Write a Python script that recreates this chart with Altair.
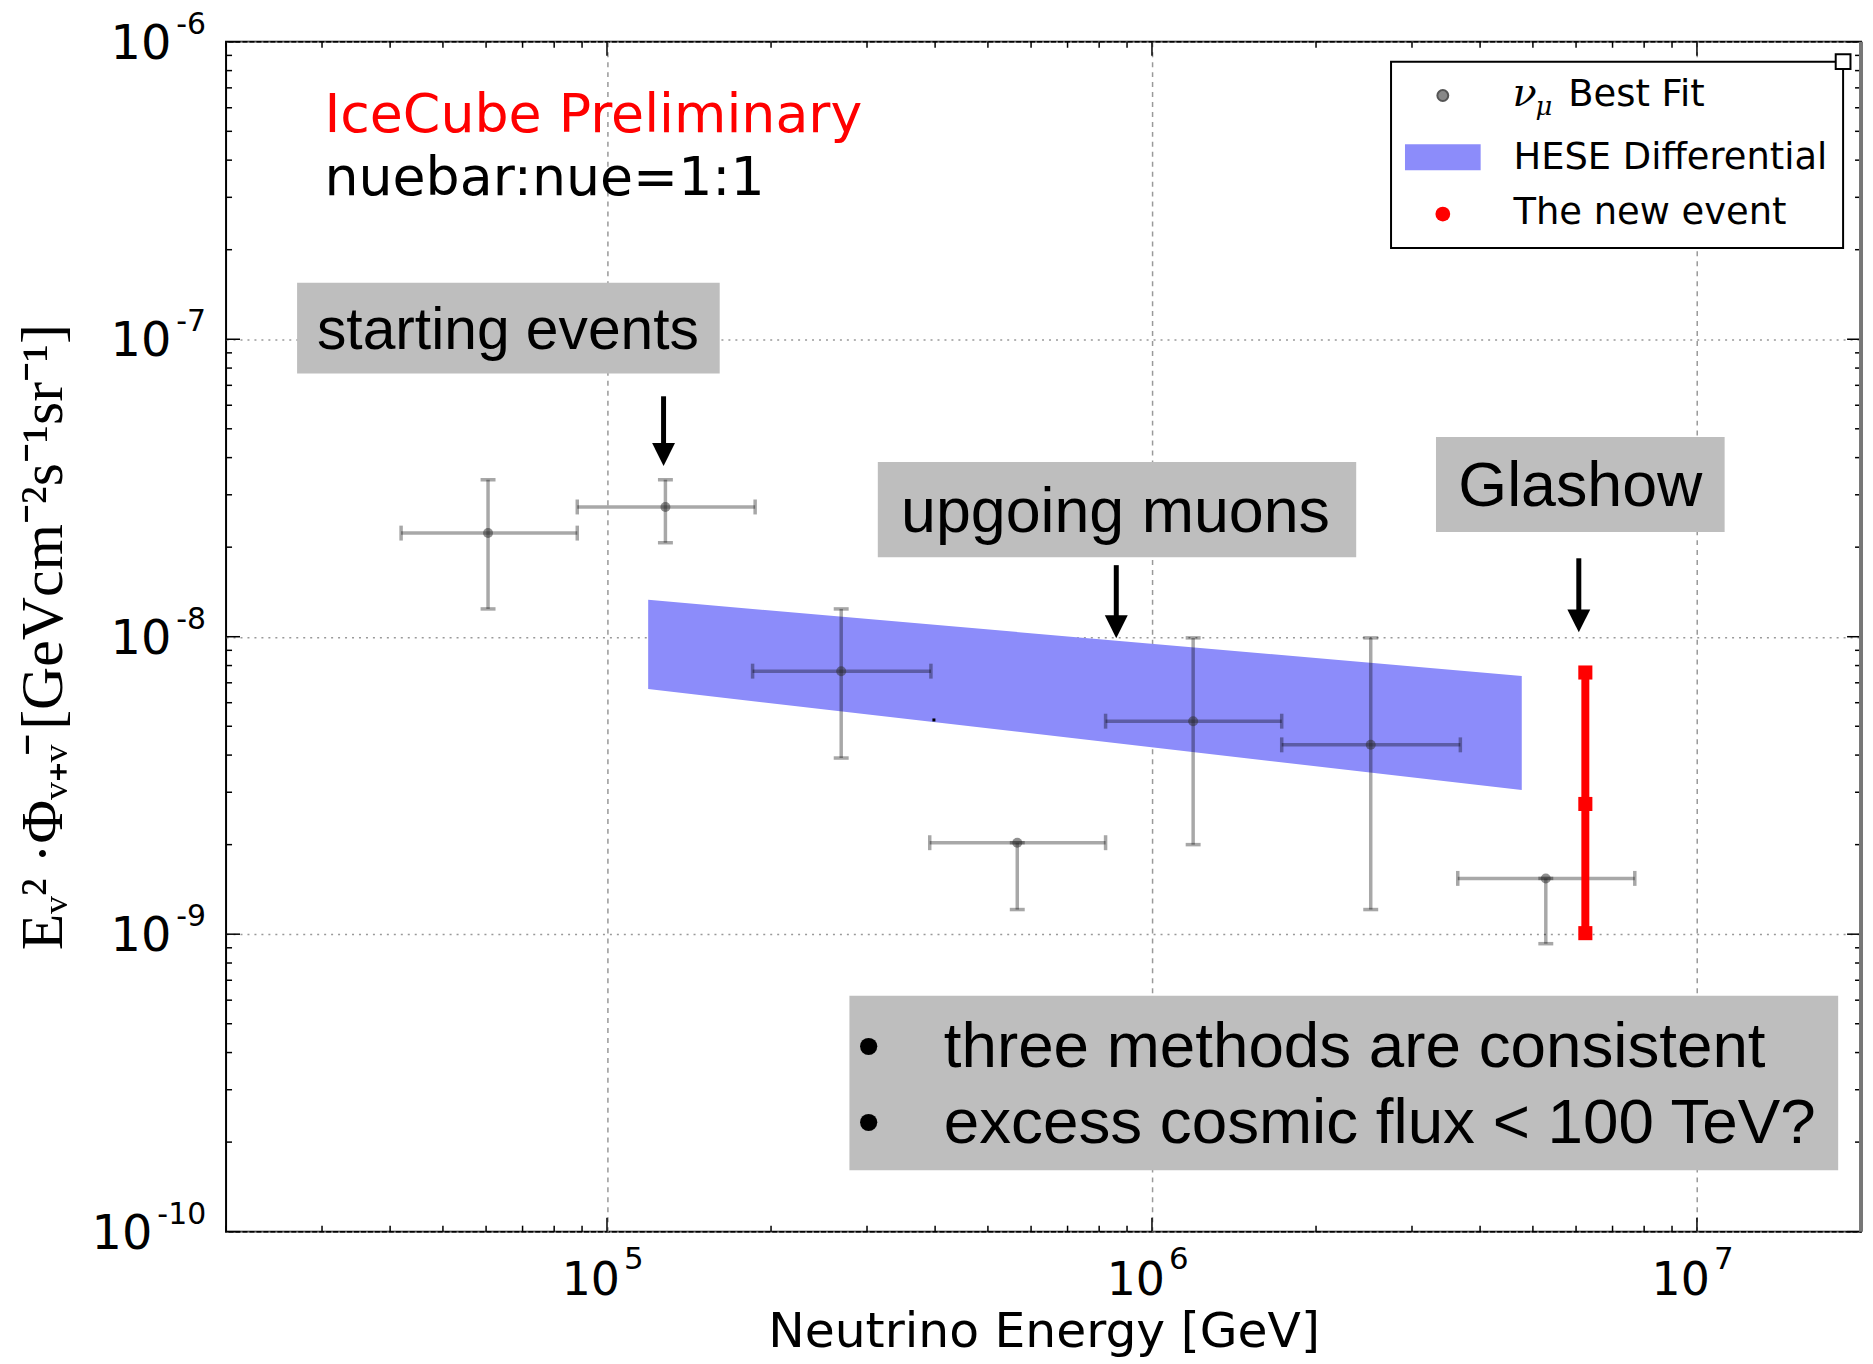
import math
import altair as alt
import pandas as pd

# ---------------- data ----------------
energy = [6.05e4, 1.28e5, 2.69e5, 5.66e5, 1.19e6, 2.52e6, 5.28e6]
energy_lo = [4.19e4, 8.82e4, 1.85e5, 3.91e5, 8.22e5, 1.73e6, 3.64e6]
energy_hi = [8.82e4, 1.87e5, 3.93e5, 8.22e5, 1.73e6, 3.68e6, 7.69e6]
flux = [2.23e-8, 2.73e-8, 7.66e-9, 2.03e-9, 5.20e-9, 4.33e-9, 1.54e-9]
flux_lo = [1.24e-8, 2.07e-8, 3.91e-9, 1.21e-9, 2.0e-9, 1.21e-9, 9.29e-10]
flux_hi = [3.37e-8, 3.37e-8, 1.24e-8, 2.03e-9, 9.91e-9, 9.91e-9, 1.54e-9]

hese_energy = [1.19e5, 4.77e6]
hese_upper = [1.33e-8, 7.38e-9]
hese_lower = [6.67e-9, 3.05e-9]

new_event_energy = [6.24e6, 6.24e6, 6.24e6]
new_event_flux = [7.58e-9, 2.74e-9, 1.008e-9]

stray_dot_energy = [3.98e5]
stray_dot_flux = [5.25e-9]

x_tick_values = [1e5, 1e6, 1e7]
x_tick_exponents = ["5", "6", "7"]
y_tick_values = [1e-10, 1e-9, 1e-8, 1e-7, 1e-6]
y_tick_exponents = ["-10", "-9", "-8", "-7", "-6"]

# annotation boxes (data coordinates)
box_x = [2.70e4, 3.14e5, 3.32e6, 2.785e5]
box_x2 = [1.61e5, 2.37e6, 1.124e7, 1.816e7]
box_y = [1.55e-7, 3.87e-8, 4.69e-8, 6.21e-10]
box_y2 = [7.67e-8, 1.85e-8, 2.25e-8, 1.61e-10]

box_texts = ["starting events", "upgoing muons", "Glashow"]
box_text_x = [6.58e4, 8.57e5, 6.11e6]
box_text_y = [9.24e-8, 2.25e-8, 2.755e-8]
box_text_size = [59, 63, 63]

bullet_lines = ["three methods are consistent", "excess cosmic flux < 100 TeV?"]
bullet_x = [3.02e5, 3.02e5]
bullet_text_x = [4.15e5, 4.15e5]
bullet_y = [3.59e-10, 1.99e-10]

arrow_x = [1.27e5, 8.60e5, 6.07e6]
arrow_top = [6.43e-8, 1.74e-8, 1.835e-8]
arrow_head = [4.10e-8, 1.08e-8, 1.13e-8]

header_texts = ["IceCube Preliminary", "nuebar:nue=1:1"]
header_colors = ["#ff0000", "#000000"]
header_x = [3.03e4, 3.03e4]
header_y = [4.96e-7, 3.05e-7]

# ---------------- layout ----------------
W, H = 1642, 1195
xscale = alt.Scale(type="log", domain=[2e4, 2e7], nice=False)
yscale = alt.Scale(type="log", domain=[1e-10, 1e-6], nice=False)

x_axis = alt.Axis(
    values=x_tick_values, labels=False,
    grid=True, gridDash=[5, 5], gridColor="#999999", gridWidth=1.5,
    ticks=False, domain=False,
    title="Neutrino Energy [GeV]", titleFont="DejaVu Sans", titleFontSize=49,
    titleFontWeight="normal", titleColor="black", titleY=115,
    titleBaseline="alphabetic",
)
y_axis = alt.Axis(
    values=y_tick_values, labels=False,
    grid=True, gridDash=[2, 5], gridColor="#999999", gridWidth=1.5,
    ticks=False, domain=False,
    title="E\u1d65\u00b2 \u00b7\u03a6\u1d65\u208a\u1d65\u0304  [GeVcm\u207b\u00b2s\u207b\u00b9sr\u207b\u00b9]",
    titleFont="Liberation Serif", titleFontSize=60, titleFontWeight="normal",
    titleColor="black", titleAngle=270, titleX=-183, titleY=H / 2,
    titleAlign="center", titleBaseline="middle",
)


def X(field):
    return alt.X(field, scale=xscale, axis=x_axis)


def Y(field):
    return alt.Y(field, scale=yscale, axis=y_axis)


one = pd.DataFrame({"k": [0]})

# HESE band
band_df = pd.DataFrame({"e": hese_energy, "lo": hese_lower, "hi": hese_upper})
band = alt.Chart(band_df).mark_area(color="#8c8cfa", opacity=1).encode(
    x=X("e:Q"), y=Y("lo:Q"), y2="hi:Q")

cross_df = pd.DataFrame({
    "e": energy, "elo": energy_lo, "ehi": energy_hi,
    "f": flux, "flo": flux_lo, "fhi": flux_hi,
})
gray = dict(stroke="black", opacity=0.34)
hbar = alt.Chart(cross_df).mark_rule(strokeWidth=3.5, **gray).encode(
    x=X("elo:Q"), x2="ehi:Q", y=Y("f:Q"))
vbar = alt.Chart(cross_df).mark_rule(strokeWidth=3.5, **gray).encode(
    x=X("e:Q"), y=Y("flo:Q"), y2="fhi:Q")
hcaps = alt.Chart(cross_df).transform_fold(["elo", "ehi"], as_=["kk", "xv"]).mark_point(
    shape="M0,-1L0,1", size=225, strokeWidth=3.5, filled=False, **gray).encode(
    x=X("xv:Q"), y=Y("f:Q"))
vcaps = alt.Chart(cross_df).transform_fold(["flo", "fhi"], as_=["kk", "yv"]).mark_point(
    shape="M-1,0L1,0", size=225, strokeWidth=3.5, filled=False, **gray).encode(
    x=X("e:Q"), y=Y("yv:Q"))
centers = alt.Chart(cross_df).mark_point(
    shape="circle", filled=True, size=100, color="#333333", opacity=0.55).encode(
    x=X("e:Q"), y=Y("f:Q"))

stray = alt.Chart(pd.DataFrame({"e": stray_dot_energy, "f": stray_dot_flux})).mark_square(
    size=9, color="black", opacity=1).encode(x=X("e:Q"), y=Y("f:Q"))

# new event
ne_df = pd.DataFrame({"e": new_event_energy, "f": new_event_flux})
ne_line = alt.Chart(ne_df).mark_rule(color="#ff0000", strokeWidth=8).encode(
    x=X("min(e):Q"), y=Y("min(f):Q"), y2="max(f):Q")
ne_pts = alt.Chart(ne_df).mark_square(size=200, color="#ff0000", opacity=1).encode(
    x=X("e:Q"), y=Y("f:Q"))

# annotation boxes
boxes_df = pd.DataFrame({"x": box_x, "x2": box_x2, "y": box_y, "y2": box_y2})
boxes = alt.Chart(boxes_df).mark_rect(color="#bebebe").encode(
    x=X("x:Q"), x2="x2:Q", y=Y("y:Q"), y2="y2:Q")

bt_df = pd.DataFrame({"t": box_texts, "x": box_text_x, "y": box_text_y})
box_text_layers = []
for i in range(len(box_texts)):
    box_text_layers.append(
        alt.Chart(bt_df.iloc[[i]]).mark_text(
            font="Liberation Sans", fontSize=box_text_size[i], align="center",
            baseline="alphabetic", color="black").encode(
            x=X("x:Q"), y=Y("y:Q"), text="t:N"))

bl_df = pd.DataFrame({"t": bullet_lines, "bx": bullet_x, "tx": bullet_text_x, "y": bullet_y,
                      "b": ["\u2022", "\u2022"]})
bullets = alt.Chart(bl_df).mark_text(font="Liberation Sans", fontSize=64, align="center",
                                     baseline="alphabetic", color="black").encode(
    x=X("bx:Q"), y=Y("y:Q"), text="b:N")
bullet_text = alt.Chart(bl_df).mark_text(font="Liberation Sans", fontSize=64, align="left",
                                         baseline="alphabetic", color="black").encode(
    x=X("tx:Q"), y=Y("y:Q"), text="t:N")

hd_df = pd.DataFrame({"t": header_texts, "c": header_colors, "x": header_x, "y": header_y})
header = alt.Chart(hd_df).mark_text(font="DejaVu Sans", fontSize=54, align="left",
                                    baseline="alphabetic").encode(
    x=X("x:Q"), y=Y("y:Q"), text="t:N", color=alt.Color("c:N", scale=None))

# arrows
ar_df = pd.DataFrame({"x": arrow_x, "top": arrow_top, "head": arrow_head})
ar_shaft = alt.Chart(ar_df).mark_rule(color="black", strokeWidth=5).encode(
    x=X("x:Q"), y=Y("top:Q"), y2="head:Q")
ar_head = alt.Chart(ar_df).mark_point(shape="M-1,-1L1,-1L0,1Z", size=529, filled=True,
                                      color="black", opacity=1).encode(
    x=X("x:Q"), y=Y("head:Q"))

# tick labels: "10" with a raised exponent, drawn through the scales
xl_df = pd.DataFrame({"v": x_tick_values, "base": ["10"] * 3, "ex": x_tick_exponents})
x_base = alt.Chart(xl_df).mark_text(font="DejaVu Sans", fontSize=46, align="right",
                                    baseline="alphabetic", dx=13, color="black").encode(
    x=X("v:Q"), y=alt.value(H + 64), text="base:N")
x_exp = alt.Chart(xl_df).mark_text(font="DejaVu Sans", fontSize=31, align="left",
                                   baseline="alphabetic", dx=17, color="black").encode(
    x=X("v:Q"), y=alt.value(H + 38), text="ex:N")

yl_df = pd.DataFrame({"v": y_tick_values, "base": ["10"] * 5, "ex": y_tick_exponents})
y_label_layers = []
for cond, bx, ex in (("length(datum.ex) <= 2", -55, -50), ("length(datum.ex) > 2", -74, -69)):
    y_label_layers.append(
        alt.Chart(yl_df).transform_filter(cond).mark_text(
            font="DejaVu Sans", fontSize=48, align="right", baseline="alphabetic", dy=17,
            color="black").encode(y=Y("v:Q"), x=alt.value(bx), text="base:N"))
    y_label_layers.append(
        alt.Chart(yl_df).transform_filter(cond).mark_text(
            font="DejaVu Sans", fontSize=30, align="left", baseline="alphabetic", dy=-8,
            color="black").encode(y=Y("v:Q"), x=alt.value(ex), text="ex:N"))


# minor / major ticks pointing inward on all four sides
def ticks_between(lo, hi):
    out_major, out_minor = [], []
    d = 10 ** math.floor(math.log10(lo))
    while d <= hi * 1.0001:
        for m in range(1, 10):
            v = m * d
            if lo * 0.9999 <= v <= hi * 1.0001:
                (out_major if m == 1 else out_minor).append(v)
        d *= 10
    return out_major, out_minor


xmaj, xmin = ticks_between(2e4, 2e7)
ymaj, ymin = ticks_between(1e-10, 1e-6)
tick_layers = []
for vals, ln in ((xmaj, 14), (xmin, 6)):
    tdf = pd.DataFrame({"v": vals})
    tick_layers.append(alt.Chart(tdf).mark_rule(color="black", strokeWidth=1.5).encode(
        x=X("v:Q"), y=alt.value(H), y2=alt.value(H - ln)))
    tick_layers.append(alt.Chart(tdf).mark_rule(color="black", strokeWidth=1.5).encode(
        x=X("v:Q"), y=alt.value(0), y2=alt.value(ln)))
for vals, ln in ((ymaj, 14), (ymin, 6)):
    tdf = pd.DataFrame({"v": vals})
    tick_layers.append(alt.Chart(tdf).mark_rule(color="black", strokeWidth=1.5).encode(
        y=Y("v:Q"), x=alt.value(0), x2=alt.value(ln)))
    tick_layers.append(alt.Chart(tdf).mark_rule(color="black", strokeWidth=1.5).encode(
        y=Y("v:Q"), x=alt.value(W), x2=alt.value(W - ln)))

right_edge = alt.Chart(one).mark_rule(color="#777777", strokeWidth=4).encode(
    x=alt.value(W), y=alt.value(0), y2=alt.value(H))

# legend (pixel layout relative to plot area)
LX0, LX1, LY0, LY1 = 1170, 1624, 20, 207
leg_box = alt.Chart(one).mark_rect(fill="white", stroke="black", strokeWidth=2).encode(
    x=alt.value(LX0), x2=alt.value(LX1), y=alt.value(LY0), y2=alt.value(LY1))
leg_corner = alt.Chart(one).mark_square(size=220, fill="white", stroke="black",
                                        strokeWidth=2, opacity=1).encode(
    x=alt.value(LX1), y=alt.value(LY0))
leg_gray = alt.Chart(one).mark_point(shape="circle", filled=True, size=120, fill="#888888",
                                     stroke="#555555", strokeWidth=2, opacity=1).encode(
    x=alt.value(1222), y=alt.value(54))
leg_blue = alt.Chart(one).mark_rect(color="#8c8cfa").encode(
    x=alt.value(1184), x2=alt.value(1260), y=alt.value(103), y2=alt.value(129))
leg_red = alt.Chart(one).mark_point(shape="circle", filled=True, size=220, color="#ff0000",
                                    opacity=1).encode(x=alt.value(1222), y=alt.value(173))
leg_nu = alt.Chart(one).mark_text(text="\u03bd", font="DejaVu Serif", fontStyle="italic",
                                  fontSize=40, align="left", baseline="alphabetic",
                                  color="black").encode(x=alt.value(1292), y=alt.value(64))
leg_mu = alt.Chart(one).mark_text(text="\u03bc", font="DejaVu Serif", fontStyle="italic",
                                  fontSize=26, align="left", baseline="alphabetic",
                                  color="black").encode(x=alt.value(1315), y=alt.value(74))
leg_texts = []
for txt, xx, yy in (("Best Fit", 1348, 64), ("HESE Differential", 1293, 128),
                    ("The new event", 1293, 183)):
    leg_texts.append(alt.Chart(one).mark_text(text=txt, font="DejaVu Sans", fontSize=37,
                                              align="left", baseline="alphabetic",
                                              color="black").encode(
        x=alt.value(xx), y=alt.value(yy)))

chart = alt.layer(
    band, hbar, vbar, hcaps, vcaps, centers, stray, ne_line, ne_pts,
    boxes, *box_text_layers, bullets, bullet_text, header, ar_shaft, ar_head,
    x_base, x_exp, *y_label_layers,
    *tick_layers, right_edge, leg_box, leg_corner, leg_gray, leg_blue, leg_red, leg_nu,
    leg_mu, *leg_texts,
).properties(
    width=W, height=H,
    autosize=alt.AutoSizeParams(type="none"),
    padding={"left": 219, "top": 31, "right": 4, "bottom": 130},
    background="white",
).configure_view(stroke="black", strokeWidth=2)

chart.save("out.html", embed_options={"renderer": "svg", "actions": False})
